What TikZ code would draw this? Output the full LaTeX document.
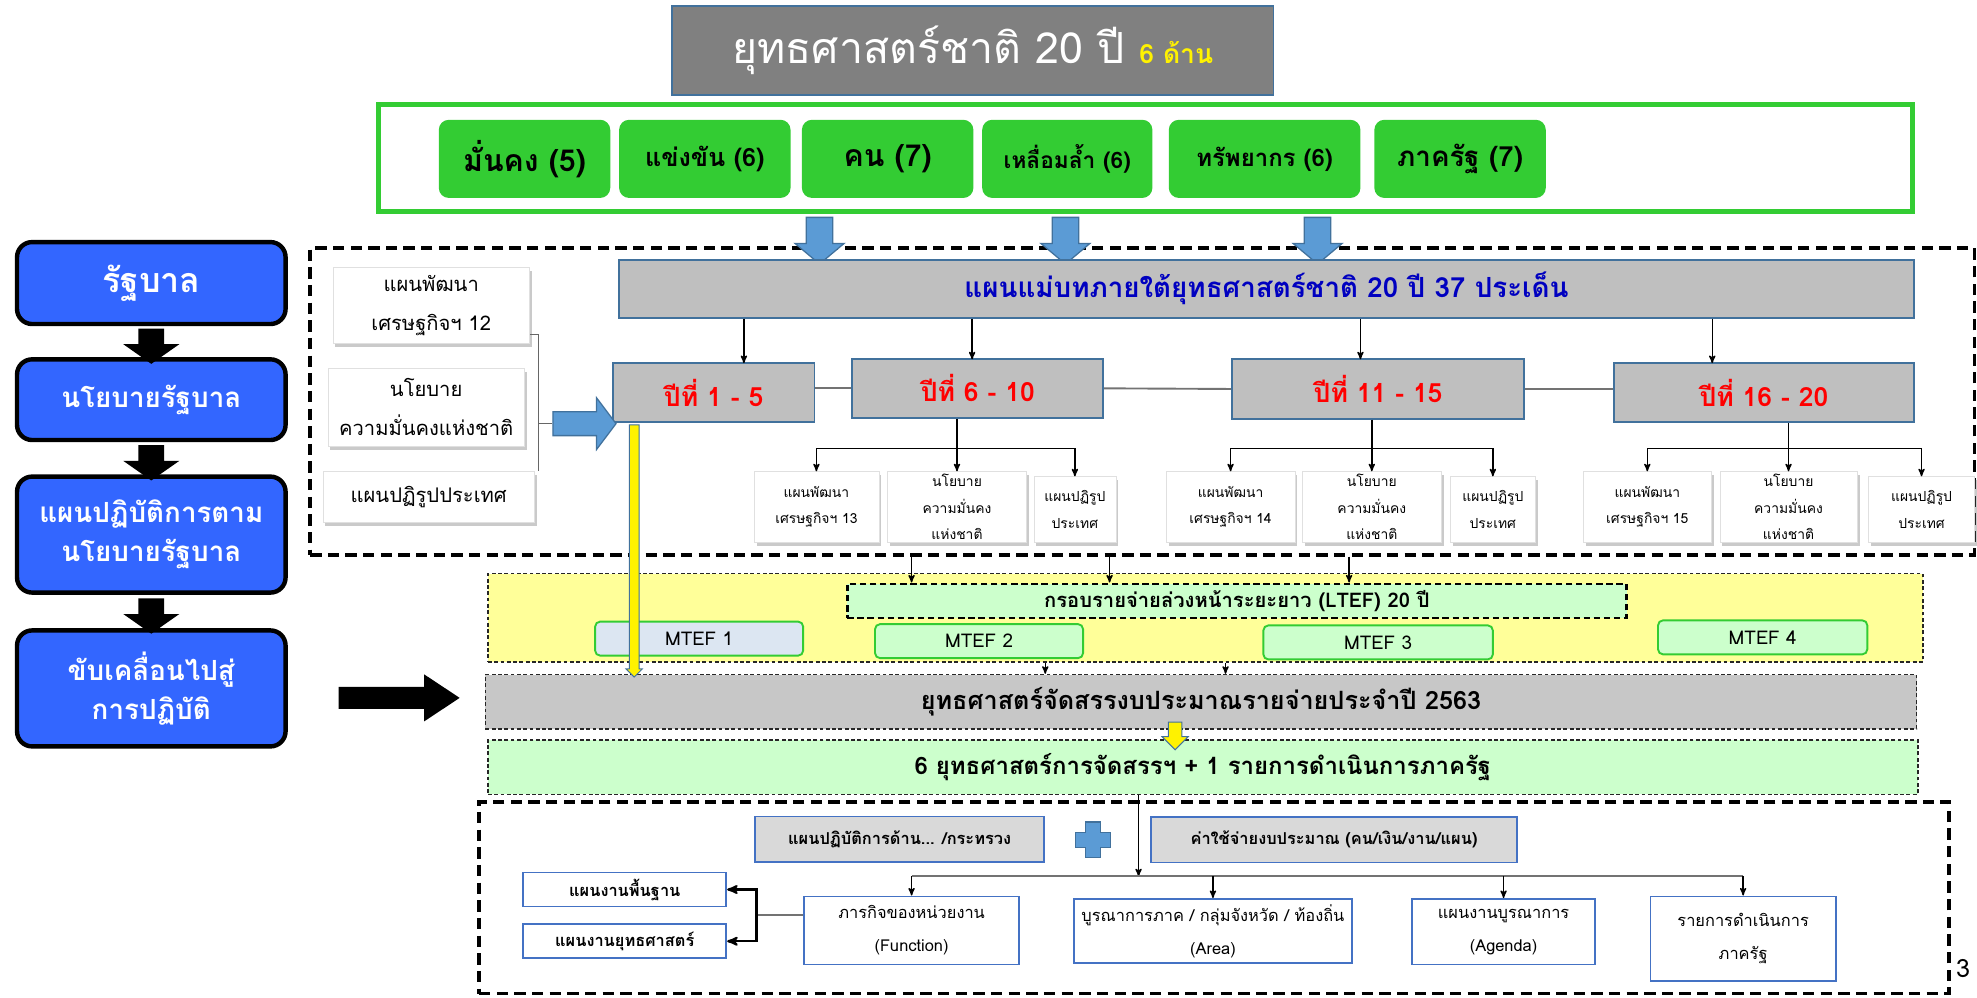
\documentclass[tikz,border=0pt]{standalone}
\usepackage{fontspec}
\setmainfont[Script=Thai]{Loma}
\usetikzlibrary{arrows,shapes.arrows,shadows,calc}

\definecolor{steel}{HTML}{41719C}
\definecolor{skyblue}{HTML}{5B9BD5}
\definecolor{leaf}{HTML}{33CC33}
\definecolor{royal}{HTML}{3366FF}
\definecolor{mint}{HTML}{CCFFCC}
\definecolor{cream}{HTML}{FFFF99}
\definecolor{silver}{HTML}{BFBFBF}
\definecolor{ink}{HTML}{0000C0}
\definecolor{frameblue}{HTML}{4472C4}
\definecolor{paleblue}{HTML}{DCE6F2}
\newcommand{\fsz}[2]{\fontsize{#1}{#2}\selectfont}

\begin{document}
\begin{tikzpicture}[x=1pt,y=-1pt,>=stealth',
  every node/.style={inner sep=0pt,align=center},
  titlebox/.style={draw=steel,line width=1.5pt,fill=black!50,text=white},
  stratbox/.style={rounded corners=8pt,fill=leaf,minimum width=136,minimum height=62,font=\bfseries},
  govbox/.style={rounded corners=12pt,fill=royal,draw=black,line width=3.5pt,text=white,minimum width=213},
  blkarrow/.style={single arrow,fill=black,inner sep=10pt,minimum height=28,single arrow head extend=12pt,single arrow tip angle=110,shape border rotate=270},
  bluearrow/.style={single arrow,draw=steel,fill=skyblue,line width=1pt,single arrow head extend=9pt,single arrow tip angle=100},
  yelarrow/.style={single arrow,draw=steel,fill=yellow,line width=0.8pt,shape border rotate=270},
  dashbox/.style={draw=black,line width=3pt,dash pattern=on 9pt off 5pt},
  paper/.style={fill=white,draw=black!12,drop shadow={shadow xshift=2pt,shadow yshift=-3pt,opacity=.35,fill=black!60}},
  yearbox/.style={fill=silver,draw=steel,line width=1.5pt,minimum height=47,text=red,font=\bfseries},
  subbox/.style={paper,minimum height=56,font=\fsz{11}{21}},
  finebox/.style={draw=black!85,line width=1.2pt,dash pattern=on 3pt off 2pt},
  mtef/.style={rounded corners=4pt,draw=leaf,line width=1.5pt,fill=mint,minimum height=27,font=\fsz{15}{18}},
  cellbox/.style={fill=black!15,draw=frameblue,line width=1.2pt,minimum height=36,font=\fsz{13}{16}\bfseries},
  taskbox/.style={fill=white,draw=frameblue,line width=1.5pt,font=\fsz{13}{26}},
  link/.style={->,line width=1.1pt},
  rule/.style={draw=black!55,line width=1.5pt}
]
\useasboundingbox (0,0) rectangle (1568,791);

% national strategy
\node[titlebox,minimum width=477,minimum height=70] (title) at (771.5,40) {\fsz{34}{40}ยุทธศาสตร์ชาติ 20 ปี \textcolor{yellow}{\fsz{21}{26}\bfseries 6 ด้าน}};
\node[draw=leaf,line width=4pt,minimum width=1217,minimum height=85] (frame) at (908.5,125.5) {};
\node[stratbox] (st1) at (416,126) {\fsz{24}{28}มั่นคง (5)};
\node[stratbox] (st2) at (559,126) {\fsz{20}{24}แข่งขัน (6)};
\node[stratbox] (st3) at (704,126) {\fsz{24}{28}คน (7)};
\node[stratbox,minimum width=135] (st4) at (846.5,126) {\fsz{18}{22}เหลื่อมล้ำ (6)};
\node[stratbox,minimum width=152] (st5) at (1003,126) {\fsz{19}{22}ทรัพยากร (6)};
\node[stratbox] (st6) at (1158,126) {\fsz{22}{26}ภาครัฐ (7)};

% government column
\node[govbox,minimum height=65,font=\fsz{27}{30}\bfseries] (gov) at (120,224.5) {รัฐบาล};
\node[govbox,minimum height=64,font=\fsz{22}{26}\bfseries] (policy) at (120,317) {นโยบายรัฐบาล};
\node[govbox,minimum height=92,font=\fsz{22}{31}\bfseries] (action) at (120,424) {แผนปฏิบัติการตาม\\นโยบายรัฐบาล};
\node[govbox,minimum height=92,font=\fsz{22}{31}\bfseries] (drive) at (120,546) {ขับเคลื่อนไปสู่\\การปฏิบัติ};
\node[blkarrow] (ga1) at (120,271) {};
\node[blkarrow] (ga2) at (120,363.5) {};
\node[blkarrow] (ga3) at (120,485) {};
\node[blkarrow,inner sep=8.5pt,minimum height=96,single arrow head extend=10pt,single arrow tip angle=67,shape border rotate=0] (go) at (310,553.5) {};

% master plans
\node[dashbox,minimum width=1320,minimum height=243] (plans) at (906,318.5) {};
\node[bluearrow,inner sep=10pt,minimum height=37,shape border rotate=270] (da1) at (650,186.5) {};
\node[bluearrow,inner sep=10pt,minimum height=37,shape border rotate=270] (da2) at (845,186.5) {};
\node[bluearrow,inner sep=10pt,minimum height=37,shape border rotate=270] (da3) at (1045,186.5) {};
\node[yearbox,minimum width=1027,minimum height=46,text=ink] (master) at (1004.5,229) {\fsz{22}{26}แผนแม่บทภายใต้ยุทธศาสตร์ชาติ 20 ปี 37 ประเด็น};
\node[yearbox,minimum width=160] (yr1) at (566,311.5) {\fsz{21}{24}ปีที่ 1 - 5};
\node[yearbox,minimum width=199] (yr2) at (775.5,308) {\fsz{21}{24}ปีที่ 6 - 10};
\node[yearbox,minimum width=232] (yr3) at (1093,308.5) {\fsz{21}{24}ปีที่ 11 - 15};
\node[yearbox,minimum width=238] (yr4) at (1399,311.5) {\fsz{21}{24}ปีที่ 16 - 20};

\node[paper,minimum width=156,minimum height=60,font=\fsz{16}{31}] (w1) at (342,242) {แผนพัฒนา\\เศรษฐกิจฯ 12};
\node[paper,minimum width=156,minimum height=62,font=\fsz{16}{31}] (w2) at (338,323) {นโยบาย\\ความมั่นคงแห่งชาติ};
\node[paper,minimum width=168,minimum height=40,font=\fsz{16}{20}] (w3) at (340,394) {แผนปฏิรูปประเทศ};
\node[bluearrow,inner sep=9pt,minimum height=50,single arrow head extend=11pt,single arrow tip angle=106] (rarr) at (460,336) {};
\coordinate (brk) at (427,336);
\draw[black!60,line width=1pt] ($(w1.south east)+(0,-7)$) -| ($(w3.north east)+(3,0)$);
\draw[black!60,line width=1pt] (brk) -- (rarr.tail);

\node[subbox,minimum width=99] (s21) at (647.5,402) {แผนพัฒนา\\เศรษฐกิจฯ 13};
\node[subbox,minimum width=110] (s22) at (759,402) {นโยบาย\\ความมั่นคง\\แห่งชาติ};
\node[subbox,minimum width=65,minimum height=52] (s23) at (852.5,404) {แผนปฏิรูป\\ประเทศ};
\node[subbox,minimum width=102] (s31) at (976,402) {แผนพัฒนา\\เศรษฐกิจฯ 14};
\node[subbox,minimum width=110] (s32) at (1088,402) {นโยบาย\\ความมั่นคง\\แห่งชาติ};
\node[subbox,minimum width=68,minimum height=52] (s33) at (1184,404) {แผนปฏิรูป\\ประเทศ};
\node[subbox,minimum width=101] (s41) at (1306.5,402) {แผนพัฒนา\\เศรษฐกิจฯ 15};
\node[subbox,minimum width=109] (s42) at (1418.5,402) {นโยบาย\\ความมั่นคง\\แห่งชาติ};
\node[subbox,minimum width=84,minimum height=52] (s43) at (1524,404) {แผนปฏิรูป\\ประเทศ};

\coordinate (t1) at (590,288);
\coordinate (t2) at (771,285);
\coordinate (t3) at (1079,285);
\coordinate (t4) at (1358,288);
\draw[link] (t1 |- master.south) -- (t1);
\draw[link] (t2 |- master.south) -- (t2);
\draw[link] (t3 |- master.south) -- (t3);
\draw[link] (t4 |- master.south) -- (t4);
\draw[rule] (yr1.east |- yr2.west) -- (yr2.west);
\draw[rule] (yr2.east) -- (yr3.west);
\draw[rule] (yr3.east) -- (yr3.east -| yr4.west);

\draw[link] (yr2.south -| s22.north) -- (s22.north);
\draw[link,<->] (s21.north) |- ($(s22.north)+(0,-18)$) -| (s23.north);
\draw[link] (yr3.south -| s32.north) -- (s32.north);
\draw[link,<->] (s31.north) |- ($(s32.north)+(0,-18)$) -| (s33.north);
\draw[link] (yr4.south -| s42.north) -- (s42.north);
\draw[link,<->] (s41.north) |- ($(s42.north)+(0,-18)$) -| (s43.north);

% budget frames
\node[finebox,fill=cream,minimum width=1138,minimum height=70] (ybox) at (956,490) {};
\node[fill=mint,draw=black,line width=2pt,dash pattern=on 5pt off 3pt,minimum width=618,minimum height=27,font=\fsz{16}{18}\bfseries] (ltef) at (981,476.5) {กรอบรายจ่ายล่วงหน้าระยะยาว (LTEF) 20 ปี};
\node[mtef,fill=paleblue,minimum width=165] (m1) at (554.5,506.5) {MTEF 1};
\node[mtef,minimum width=165] (m2) at (776.5,508.5) {MTEF 2};
\node[mtef,minimum width=182] (m3) at (1093,509.5) {MTEF 3};
\node[mtef,minimum width=166] (m4) at (1398,505.5) {MTEF 4};
\node[finebox,fill=black!22,minimum width=1135,minimum height=43,font=\fsz{20}{24}\bfseries] (budget) at (952.5,556.5) {ยุทธศาสตร์จัดสรรงบประมาณรายจ่ายประจำปี 2563};
\node[finebox,fill=mint,minimum width=1134,minimum height=43,font=\fsz{19}{24}\bfseries] (alloc) at (954,608.5) {6 ยุทธศาสตร์การจัดสรรฯ + 1 รายการดำเนินการภาครัฐ};

\coordinate (l1) at (723,476);
\coordinate (l2) at (880,476);
\coordinate (l3) at (1070,476);
\draw[link] (l1 |- plans.south) -- (l1 |- ltef.north);
\draw[link] (l2 |- plans.south) -- (l2 |- ltef.north);
\draw[link] (l3 |- plans.south) -- (l3 |- ltef.north);
\coordinate (q1) at (829,556);
\coordinate (q2) at (972,556);
\draw[link] (q1 |- ybox.south) -- (q1 |- budget.north);
\draw[link] (q2 |- ybox.south) -- (q2 |- budget.north);
\node[yelarrow,inner sep=3.5pt,minimum height=200,single arrow head extend=2.5pt] (yarr) at (503,435) {};
\node[yelarrow,inner sep=5pt,minimum height=22,single arrow head extend=5pt] (sarr) at (932,581) {};

% operations
\node[dashbox,minimum width=1166,minimum height=152] (ops) at (963,712) {};
\node[cellbox,minimum width=229] (op1) at (713.5,665.5) {แผนปฏิบัติการด้าน... /กระทรวง};
\node[cellbox,minimum width=290] (op2) at (1058,666) {ค่าใช้จ่ายงบประมาณ (คน/เงิน/งาน/แผน)};
\filldraw[fill=skyblue,draw=steel,line width=1pt] (861,652) -- (873,652) -- (873,660) -- (881,660) -- (881,672) -- (873,672) -- (873,680) -- (861,680) -- (861,672) -- (853,672) -- (853,660) -- (861,660) -- cycle;
\node[taskbox,minimum width=170,minimum height=54] (b1) at (723,738) {ภารกิจของหน่วยงาน\\(Function)};
\node[taskbox,minimum width=220,minimum height=51] (b2) at (962,738.5) {บูรณาการภาค / กลุ่มจังหวัด / ท้องถิ่น\\(Area)};
\node[taskbox,minimum width=145,minimum height=52] (b3) at (1192.5,739) {แผนงานบูรณาการ\\(Agenda)};
\node[taskbox,minimum width=147,minimum height=67] (b4) at (1382.5,744.5) {รายการดำเนินการ\\ภาครัฐ};
\node[taskbox,minimum width=161,minimum height=27,font=\fsz{13}{16}\bfseries] (k1) at (495.5,705.5) {แผนงานพื้นฐาน};
\node[taskbox,minimum width=161,minimum height=27,font=\fsz{13}{16}\bfseries] (k2) at (495.5,746.5) {แผนงานยุทธศาสตร์};

\coordinate (hl) at (903,695);
\draw[link] (hl |- alloc.south) -- (hl);
\draw[rule] (b1.north |- hl) -- (b4.north |- hl);
\draw[link] (b1.north |- hl) -- (b1.north);
\draw[link] (b2.north |- hl) -- (b2.north);
\draw[link] (b3.north |- hl) -- (b3.north);
\draw[link] (b4.north |- hl) -- (b4.north);
\coordinate (kj) at (600,726);
\draw[rule] (kj) -- (kj -| b1.west);
\draw[link,line width=1.8pt] (kj) |- (k1.east);
\draw[link,line width=1.8pt] (kj) |- (k2.east);

\node[font=\fsz{20}{24}] (page) at (1557,768) {3};
\end{tikzpicture}
\end{document}
